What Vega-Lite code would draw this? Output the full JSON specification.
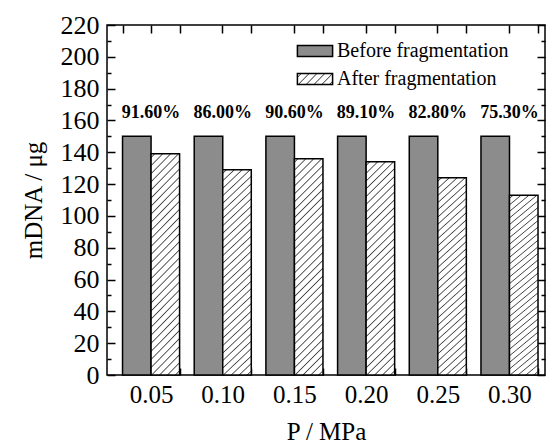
{
  "$schema": "https://vega.github.io/schema/vega-lite/v6.json",
  "autosize": "none",
  "padding": {"left": 107, "top": 25, "right": 3, "bottom": 72},
  "width": 438,
  "height": 350,
  "background": "white",
  "datasets": {
    "bars": [
      {"P": "0.05", "stage": "Before fragmentation", "value": 150},
      {"P": "0.05", "stage": "After fragmentation", "value": 139},
      {"P": "0.10", "stage": "Before fragmentation", "value": 150},
      {"P": "0.10", "stage": "After fragmentation", "value": 129},
      {"P": "0.15", "stage": "Before fragmentation", "value": 150},
      {"P": "0.15", "stage": "After fragmentation", "value": 136},
      {"P": "0.20", "stage": "Before fragmentation", "value": 150},
      {"P": "0.20", "stage": "After fragmentation", "value": 134},
      {"P": "0.25", "stage": "Before fragmentation", "value": 150},
      {"P": "0.25", "stage": "After fragmentation", "value": 124},
      {"P": "0.30", "stage": "Before fragmentation", "value": 150},
      {"P": "0.30", "stage": "After fragmentation", "value": 113}
    ],
    "labels": [
      {"P": "0.05", "pct": "91.60%", "before": 150},
      {"P": "0.10", "pct": "86.00%", "before": 150},
      {"P": "0.15", "pct": "90.60%", "before": 150},
      {"P": "0.20", "pct": "89.10%", "before": 150},
      {"P": "0.25", "pct": "82.80%", "before": 150},
      {"P": "0.30", "pct": "75.30%", "before": 150}
    ]
  },
  "resolve": {"axis": {"x": "independent", "y": "independent"}, "scale": {"fill": "independent"}},
  "layer": [
    {
      "data": {"name": "bars"},
      "mark": {"type": "bar", "stroke": "black", "strokeWidth": 1.5},
      "encoding": {
        "x": {
          "field": "P", "type": "nominal",
          "scale": {"paddingInner": 0.204, "paddingOuter": 0.157, "align": 0.69},
          "axis": {"orient": "bottom", "labelAngle": 0, "tickBand": "extent", "tickOffset": -7, "tickSize": -7, "labelPadding": 14, "title": "P / MPa", "titlePadding": 12}
        },
        "xOffset": {
          "field": "stage", "type": "nominal",
          "sort": ["Before fragmentation", "After fragmentation"],
          "scale": {"paddingInner": 0, "paddingOuter": 0}
        },
        "y": {
          "field": "value", "type": "quantitative",
          "scale": {"domain": [0, 220], "nice": false},
          "axis": {"orient": "left", "values": [0, 20, 40, 60, 80, 100, 120, 140, 160, 180, 200, 220], "tickSize": -8, "labelPadding": 16, "labelFontSize": 26, "title": "mDNA / μg", "titleX": -74, "titleY": 175, "titleAngle": -90, "titleAlign": "center", "titleBaseline": "middle"}
        },
        "fill": {
          "condition": {
            "test": "datum.stage === 'After fragmentation'",
            "value": {
              "gradient": "linear", "x1": 0, "y1": 0, "x2": 0.1467, "y2": 1.1125,
              "stops": [
                {"offset": 0.010, "color": "#ffffff"}, {"offset": 0.015, "color": "#444444"}, {"offset": 0.020, "color": "#ffffff"},
                {"offset": 0.0423, "color": "#ffffff"}, {"offset": 0.0473, "color": "#444444"}, {"offset": 0.0523, "color": "#ffffff"},
                {"offset": 0.0745, "color": "#ffffff"}, {"offset": 0.0795, "color": "#444444"}, {"offset": 0.0845, "color": "#ffffff"},
                {"offset": 0.1068, "color": "#ffffff"}, {"offset": 0.1118, "color": "#444444"}, {"offset": 0.1168, "color": "#ffffff"},
                {"offset": 0.1390, "color": "#ffffff"}, {"offset": 0.1440, "color": "#444444"}, {"offset": 0.1490, "color": "#ffffff"},
                {"offset": 0.1713, "color": "#ffffff"}, {"offset": 0.1763, "color": "#444444"}, {"offset": 0.1813, "color": "#ffffff"},
                {"offset": 0.2036, "color": "#ffffff"}, {"offset": 0.2086, "color": "#444444"}, {"offset": 0.2136, "color": "#ffffff"},
                {"offset": 0.2358, "color": "#ffffff"}, {"offset": 0.2408, "color": "#444444"}, {"offset": 0.2458, "color": "#ffffff"},
                {"offset": 0.2681, "color": "#ffffff"}, {"offset": 0.2731, "color": "#444444"}, {"offset": 0.2781, "color": "#ffffff"},
                {"offset": 0.3003, "color": "#ffffff"}, {"offset": 0.3053, "color": "#444444"}, {"offset": 0.3103, "color": "#ffffff"},
                {"offset": 0.3326, "color": "#ffffff"}, {"offset": 0.3376, "color": "#444444"}, {"offset": 0.3426, "color": "#ffffff"},
                {"offset": 0.3649, "color": "#ffffff"}, {"offset": 0.3699, "color": "#444444"}, {"offset": 0.3749, "color": "#ffffff"},
                {"offset": 0.3971, "color": "#ffffff"}, {"offset": 0.4021, "color": "#444444"}, {"offset": 0.4071, "color": "#ffffff"},
                {"offset": 0.4294, "color": "#ffffff"}, {"offset": 0.4344, "color": "#444444"}, {"offset": 0.4394, "color": "#ffffff"},
                {"offset": 0.4616, "color": "#ffffff"}, {"offset": 0.4666, "color": "#444444"}, {"offset": 0.4716, "color": "#ffffff"},
                {"offset": 0.4939, "color": "#ffffff"}, {"offset": 0.4989, "color": "#444444"}, {"offset": 0.5039, "color": "#ffffff"},
                {"offset": 0.5262, "color": "#ffffff"}, {"offset": 0.5312, "color": "#444444"}, {"offset": 0.5362, "color": "#ffffff"},
                {"offset": 0.5584, "color": "#ffffff"}, {"offset": 0.5634, "color": "#444444"}, {"offset": 0.5684, "color": "#ffffff"},
                {"offset": 0.5907, "color": "#ffffff"}, {"offset": 0.5957, "color": "#444444"}, {"offset": 0.6007, "color": "#ffffff"},
                {"offset": 0.6229, "color": "#ffffff"}, {"offset": 0.6279, "color": "#444444"}, {"offset": 0.6329, "color": "#ffffff"},
                {"offset": 0.6552, "color": "#ffffff"}, {"offset": 0.6602, "color": "#444444"}, {"offset": 0.6652, "color": "#ffffff"},
                {"offset": 0.6875, "color": "#ffffff"}, {"offset": 0.6925, "color": "#444444"}, {"offset": 0.6975, "color": "#ffffff"},
                {"offset": 0.7197, "color": "#ffffff"}, {"offset": 0.7247, "color": "#444444"}, {"offset": 0.7297, "color": "#ffffff"},
                {"offset": 0.7520, "color": "#ffffff"}, {"offset": 0.7570, "color": "#444444"}, {"offset": 0.7620, "color": "#ffffff"},
                {"offset": 0.7842, "color": "#ffffff"}, {"offset": 0.7892, "color": "#444444"}, {"offset": 0.7942, "color": "#ffffff"},
                {"offset": 0.8165, "color": "#ffffff"}, {"offset": 0.8215, "color": "#444444"}, {"offset": 0.8265, "color": "#ffffff"},
                {"offset": 0.8488, "color": "#ffffff"}, {"offset": 0.8538, "color": "#444444"}, {"offset": 0.8588, "color": "#ffffff"},
                {"offset": 0.8810, "color": "#ffffff"}, {"offset": 0.8860, "color": "#444444"}, {"offset": 0.8910, "color": "#ffffff"},
                {"offset": 0.9133, "color": "#ffffff"}, {"offset": 0.9183, "color": "#444444"}, {"offset": 0.9233, "color": "#ffffff"},
                {"offset": 0.9455, "color": "#ffffff"}, {"offset": 0.9505, "color": "#444444"}, {"offset": 0.9555, "color": "#ffffff"},
                {"offset": 0.9778, "color": "#ffffff"}, {"offset": 0.9828, "color": "#444444"}, {"offset": 0.9878, "color": "#ffffff"}
              ]
            }
          },
          "field": "stage", "type": "nominal",
          "scale": {"domain": ["Before fragmentation", "After fragmentation"], "range": ["#8c8c8c", "#ffffff"]},
          "legend": null
        }
      }
    },
    {
      "data": {"name": "labels"},
      "mark": {"type": "text", "font": "Liberation Serif", "fontWeight": "bold", "fontSize": 18, "color": "black", "baseline": "middle", "align": "center", "dy": -23},
      "encoding": {
        "x": {"field": "P", "type": "nominal", "axis": {"orient": "top", "labels": false, "tickSize": -8, "title": null}},
        "y": {"field": "before", "type": "quantitative", "axis": {"orient": "right", "labels": false, "values": [0, 20, 40, 60, 80, 100, 120, 140, 160, 180, 200, 220], "tickSize": -8, "title": null}},
        "text": {"field": "pct"}
      }
    },
    {
      "data": {"name": "bars"},
      "mark": {"type": "text", "text": ""},
      "encoding": {
        "x": {"field": "P", "type": "nominal", "axis": {"orient": "top", "labels": false, "tickBand": "extent", "tickOffset": -7, "tickSize": -8, "title": null}},
        "y": {"field": "value", "type": "quantitative", "axis": {"orient": "left", "labels": false, "values": [10, 30, 50, 70, 90, 110, 130, 150, 170, 190, 210], "tickSize": -4, "title": null}},
        "fill": {
          "field": "stage", "type": "nominal",
          "scale": {
            "domain": ["Before fragmentation", "After fragmentation"],
            "range": ["#8c8c8c", {"expr": "({gradient: 'linear', x1: 0, y1: 0, x2: 1.194, y2: 0.365, stops: [{offset: 0.06, color: '#ffffff'}, {offset: 0.085, color: '#444444'}, {offset: 0.11, color: '#ffffff'}, {offset: 0.23, color: '#ffffff'}, {offset: 0.255, color: '#444444'}, {offset: 0.28, color: '#ffffff'}, {offset: 0.40, color: '#ffffff'}, {offset: 0.425, color: '#444444'}, {offset: 0.45, color: '#ffffff'}, {offset: 0.57, color: '#ffffff'}, {offset: 0.595, color: '#444444'}, {offset: 0.62, color: '#ffffff'}, {offset: 0.74, color: '#ffffff'}, {offset: 0.765, color: '#444444'}, {offset: 0.79, color: '#ffffff'}, {offset: 0.91, color: '#ffffff'}, {offset: 0.935, color: '#444444'}, {offset: 0.96, color: '#ffffff'}]})"}]
          },
          "legend": {
            "title": null, "orient": "none", "legendX": 196, "legendY": 14,
            "symbolType": "M-1.6,-0.5L1.6,-0.5L1.6,0.5L-1.6,0.5Z", "symbolSize": 484,
            "symbolStrokeColor": "black", "symbolStrokeWidth": 1.5, "symbolOpacity": 1,
            "labelFont": "Liberation Serif", "labelFontSize": 20, "labelColor": "black", "labelOffset": 10, "labelLimit": 0,
            "rowPadding": 6, "padding": 0
          }
        }
      }
    },
    {
      "data": {"name": "labels"},
      "mark": {"type": "bar", "opacity": 0},
      "encoding": {
        "x": {"field": "P", "type": "nominal", "axis": null},
        "y": {"field": "before", "type": "quantitative", "axis": {"orient": "right", "labels": false, "values": [10, 30, 50, 70, 90, 110, 130, 150, 170, 190, 210], "tickSize": -4, "title": null}}
      }
    }
  ],
  "config": {
    "font": "Liberation Serif",
    "view": {"stroke": "black", "strokeWidth": 1.5},
    "axis": {
      "domain": false, "grid": false,
      "tickColor": "black", "tickWidth": 1.5,
      "labelColor": "black", "labelFont": "Liberation Serif", "labelFontSize": 25,
      "titleFont": "Liberation Serif", "titleFontSize": 25, "titleFontWeight": "normal", "titleColor": "black"
    }
  }
}
